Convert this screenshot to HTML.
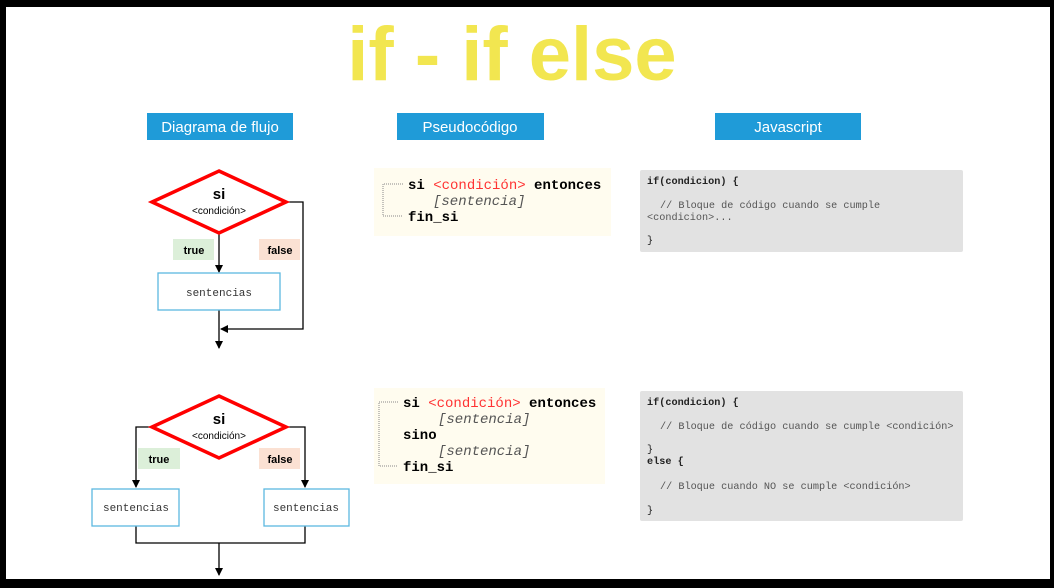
<!DOCTYPE html>
<html><head><meta charset="utf-8"><style>
html,body{margin:0;padding:0;background:#000;}
svg{display:block}
</style></head><body>
<svg width="1054" height="588" xmlns="http://www.w3.org/2000/svg">
<defs><marker id="a" markerWidth="8" markerHeight="8" refX="7" refY="4" orient="auto" markerUnits="userSpaceOnUse"><path d="M0,0 L8,4 L0,8 z" fill="#000"/></marker></defs>
<rect x="0" y="0" width="1054" height="588" fill="#000"/>
<rect x="6" y="7" width="1044" height="572" fill="#fff"/>
<text x="512" y="80" text-anchor="middle" font-family="Liberation Sans, sans-serif" font-weight="bold" font-size="76" fill="#f2e650">if - if else</text>
<g font-family="Liberation Sans, sans-serif" font-size="15" fill="#fff" text-anchor="middle">
<rect x="147" y="113" width="146" height="27" fill="#1f9bd8"/><text x="220" y="132">Diagrama de flujo</text>
<rect x="397" y="113" width="147" height="27" fill="#1f9bd8"/><text x="470" y="132">Pseudocódigo</text>
<rect x="715" y="113" width="146" height="27" fill="#1f9bd8"/><text x="788" y="132">Javascript</text>
</g>
<!-- diagram 1 -->
<g stroke="#000" stroke-width="1.3" fill="none">
<line x1="219" y1="234" x2="219" y2="272" marker-end="url(#a)"/>
<polyline points="286,202 303,202 303,329 221,329" marker-end="url(#a)"/>
<line x1="219" y1="310" x2="219" y2="348" marker-end="url(#a)"/>
</g>
<polygon points="219,171 286,202 219,233 152,202" fill="#fff" stroke="#f00" stroke-width="3.5"/>
<g font-family="Liberation Sans, sans-serif" text-anchor="middle">
<text x="219" y="199" font-weight="bold" font-size="15">si</text>
<text x="219" y="214" font-size="10">&lt;condición&gt;</text>
<rect x="173" y="239" width="41" height="21" fill="#dcefd9"/><text x="194" y="254" font-size="11" font-weight="bold">true</text>
<rect x="259" y="239" width="41" height="21" fill="#fbe1d3"/><text x="280" y="254" font-size="11" font-weight="bold">false</text>
</g>
<rect x="158" y="273" width="122" height="37" fill="#fff" stroke="#5cb8e0" stroke-width="1.3"/>
<text x="219" y="296" text-anchor="middle" font-family="Liberation Mono, monospace" font-size="11" fill="#333">sentencias</text>
<!-- diagram 2 -->
<g stroke="#000" stroke-width="1.3" fill="none">
<polyline points="152,427 136,427 136,487" marker-end="url(#a)"/>
<polyline points="286,427 305,427 305,487" marker-end="url(#a)"/>
<polyline points="136,526 136,543 305,543 305,526"/>
<line x1="219" y1="543" x2="219" y2="575" marker-end="url(#a)"/>
</g>
<polygon points="219,396 286,427 219,458 152,427" fill="#fff" stroke="#f00" stroke-width="3.5"/>
<g font-family="Liberation Sans, sans-serif" text-anchor="middle">
<text x="219" y="424" font-weight="bold" font-size="15">si</text>
<text x="219" y="439" font-size="10">&lt;condición&gt;</text>
<rect x="138" y="448" width="42" height="21" fill="#dcefd9"/><text x="159" y="463" font-size="11" font-weight="bold">true</text>
<rect x="259" y="448" width="41" height="21" fill="#fbe1d3"/><text x="280" y="463" font-size="11" font-weight="bold">false</text>
</g>
<rect x="92" y="489" width="87" height="37" fill="#fff" stroke="#5cb8e0" stroke-width="1.3"/>
<text x="136" y="511" text-anchor="middle" font-family="Liberation Mono, monospace" font-size="11" fill="#333">sentencias</text>
<rect x="264" y="489" width="85" height="37" fill="#fff" stroke="#5cb8e0" stroke-width="1.3"/>
<text x="306" y="511" text-anchor="middle" font-family="Liberation Mono, monospace" font-size="11" fill="#333">sentencias</text>
<!-- pseudo 1 -->
<rect x="374" y="168" width="237" height="68" fill="#fffcef"/>
<polyline points="403,184 383,184 383,216 403,216" fill="none" stroke="#888" stroke-width="1" stroke-dasharray="1,1"/>
<g font-family="Liberation Mono, monospace" font-size="14">
<text x="408" y="189" font-weight="bold">si <tspan fill="#f33" font-weight="normal">&lt;condición&gt;</tspan> entonces</text>
<text x="433" y="205" font-style="italic" fill="#555">[sentencia]</text>
<text x="408" y="221" font-weight="bold">fin_si</text>
</g>
<!-- pseudo 2 -->
<rect x="374" y="388" width="231" height="96" fill="#fffcef"/>
<polyline points="398,402 379,402 379,466 398,466" fill="none" stroke="#888" stroke-width="1" stroke-dasharray="1,1"/>
<g font-family="Liberation Mono, monospace" font-size="14">
<text x="403" y="407" font-weight="bold">si <tspan fill="#f33" font-weight="normal">&lt;condición&gt;</tspan> entonces</text>
<text x="438" y="423" font-style="italic" fill="#555">[sentencia]</text>
<text x="403" y="439" font-weight="bold">sino</text>
<text x="438" y="455" font-style="italic" fill="#555">[sentencia]</text>
<text x="403" y="471" font-weight="bold">fin_si</text>
</g>
<!-- code 1 -->
<rect x="640" y="170" width="323" height="82" rx="2" fill="#e2e2e2"/>
<g font-family="Liberation Mono, monospace" font-size="10.2">
<text x="647" y="184" font-weight="bold" fill="#222">if(condicion) {</text>
<text x="660" y="208" fill="#555">// Bloque de código cuando se cumple</text>
<text x="647" y="220" fill="#555">&lt;condicion&gt;...</text>
<text x="647" y="243" fill="#222">}</text>
</g>
<!-- code 2 -->
<rect x="640" y="391" width="323" height="130" rx="2" fill="#e2e2e2"/>
<g font-family="Liberation Mono, monospace" font-size="10.2">
<text x="647" y="405" font-weight="bold" fill="#222">if(condicion) {</text>
<text x="660" y="429" fill="#555">// Bloque de código cuando se cumple &lt;condición&gt;</text>
<text x="647" y="452" fill="#222">}</text>
<text x="647" y="464" font-weight="bold" fill="#222">else {</text>
<text x="660" y="489" fill="#555">// Bloque cuando NO se cumple &lt;condición&gt;</text>
<text x="647" y="513" fill="#222">}</text>
</g>
</svg>
</body></html>
